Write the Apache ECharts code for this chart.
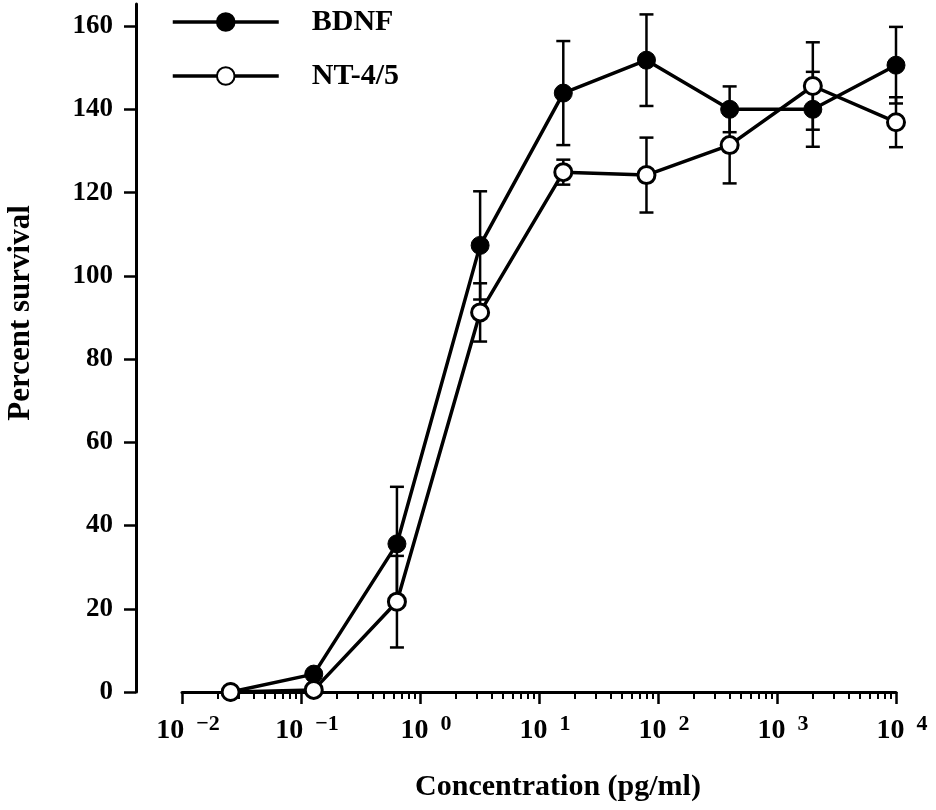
<!DOCTYPE html>
<html><head><meta charset="utf-8">
<script src="https://cdn.jsdelivr.net/npm/echarts@6/dist/echarts.min.js"></script>
<style>html,body{margin:0;padding:0;background:#fff}#c{width:936px;height:810px}</style>
</head><body><div id="c"></div>
<script>
// Concentrations (pg/ml)
const concentrations = [0.0256, 0.128, 0.64, 3.2, 16, 80, 400, 2000, 10000];
// BDNF percent survival and error
const bdnfMean = [0, 4.3, 35.6, 107.3, 143.9, 151.8, 140, 140, 150.6];
const bdnfErr  = [0, 0, 13.7, 13, 12.5, 11, 5.5, 9, 9.2];
// NT-4/5 percent survival and error
const ntMean = [0, 0.5, 21.7, 91.2, 124.9, 124.2, 131.4, 145.6, 136.9];
const ntErr  = [0, 0, 11, 7, 3, 9, 9.2, 10.5, 6];
// Y tick labels
const yTicks = [0, 20, 40, 60, 80, 100, 120, 140, 160];
const seriesNames = ['BDNF', 'NT-4/5'];

const SERIF = "'Liberation Serif', 'DejaVu Serif', serif";

function errorSeries(name, means, errs, z) {
  return {
    type: 'custom', name: name, z: z, silent: true,
    data: concentrations.map((c, i) => [c, means[i] - errs[i], means[i] + errs[i]]),
    encode: { x: 0, y: [1, 2] },
    renderItem: function (params, api) {
      const x = api.value(0), lo = api.value(1), hi = api.value(2);
      if (!(hi - lo > 0)) return null;
      const p1 = api.coord([x, lo]), p2 = api.coord([x, hi]);
      const hw = 7;
      const style = { stroke: '#000', lineWidth: 2.5 };
      return { type: 'group', children: [
        { type: 'line', shape: { x1: p1[0], y1: p1[1], x2: p2[0], y2: p2[1] }, style: style },
        { type: 'line', shape: { x1: p1[0] - hw, y1: p1[1], x2: p1[0] + hw, y2: p1[1] }, style: style },
        { type: 'line', shape: { x1: p2[0] - hw, y1: p2[1], x2: p2[0] + hw, y2: p2[1] }, style: style }
      ]};
    }
  };
}

const chart = echarts.init(document.getElementById('c'), null, { renderer: 'canvas' });
chart.setOption({
  backgroundColor: '#fff',
  animation: false,
  grid: { left: 182, right: 40, top: 4, bottom: 118, outerBoundsMode: 'none', containLabel: false },
  legend: {
    data: seriesNames,
    orient: 'vertical', left: 171, top: 7, padding: 0,
    itemWidth: 106, itemHeight: 22, itemGap: 24,
    lineStyle: { width: 3.5 },
    textStyle: { fontFamily: SERIF, fontWeight: 'bold', fontSize: 30, color: '#000', padding: [0, 0, 0, 28] }
  },
  xAxis: {
    type: 'log', logBase: 10, min: 0.01, max: 10000,
    name: 'Concentration (pg/ml)', nameLocation: 'middle', nameGap: 80,
    nameTextStyle: { fontFamily: SERIF, fontWeight: 'bold', fontSize: 30, color: '#000', padding: [0, 0, 0, 38] },
    axisLine: { lineStyle: { color: '#000', width: 3 } },
    axisTick: { length: 12, lineStyle: { color: '#000', width: 2.5 } },
    minorTick: { show: true, splitNumber: 9, length: 7, lineStyle: { color: '#000', width: 2 } },
    splitLine: { show: false }, minorSplitLine: { show: false },
    axisLabel: {
      margin: 21,
      formatter: function (v) {
        const e = Math.round(Math.log10(v));
        const txt = e < 0 ? '\u2212' + (-e) : String(e);
        return '{b|10}{s|' + txt + '}';
      },
      rich: {
        b: { fontFamily: SERIF, fontWeight: 'bold', fontSize: 28, lineHeight: 36, color: '#000', padding: [0, 0, 0, 12] },
        s: { fontFamily: SERIF, fontWeight: 'bold', fontSize: 22, lineHeight: 20, verticalAlign: 'top', color: '#000', padding: [0, 0, 0, 12] }
      }
    }
  },
  yAxis: {
    type: 'value', min: 0, max: 165.3, interval: 20, offset: 46,
    name: 'Percent survival', nameLocation: 'middle', nameGap: 100, nameRotate: 90,
    nameTextStyle: { fontFamily: SERIF, fontWeight: 'bold', fontSize: 31, color: '#000', padding: [0, 0, 0, 70] },
    axisLine: { show: true, lineStyle: { color: '#000', width: 3 } },
    axisTick: { show: true, length: 12, customValues: yTicks, lineStyle: { color: '#000', width: 2.5 } },
    splitLine: { show: false },
    axisLabel: { customValues: yTicks, margin: 23, fontFamily: SERIF, fontWeight: 'bold', fontSize: 27, color: '#000' }
  },
  series: [
    errorSeries('BDNF error', bdnfMean, bdnfErr, 1),
    errorSeries('NT-4/5 error', ntMean, ntErr, 1),
    {
      name: 'BDNF', type: 'line', z: 3,
      data: concentrations.map((c, i) => [c, bdnfMean[i]]),
      symbol: 'circle', symbolSize: 18,
      itemStyle: { color: '#000', borderColor: '#000', borderWidth: 1 },
      lineStyle: { color: '#000', width: 3.5 }
    },
    {
      name: 'NT-4/5', type: 'line', z: 4,
      data: concentrations.map((c, i) => [c, ntMean[i]]),
      symbol: 'circle', symbolSize: 17,
      itemStyle: { color: '#fff', borderColor: '#000', borderWidth: 3 },
      lineStyle: { color: '#000', width: 3.5 }
    }
  ]
});
</script>
</body></html>
